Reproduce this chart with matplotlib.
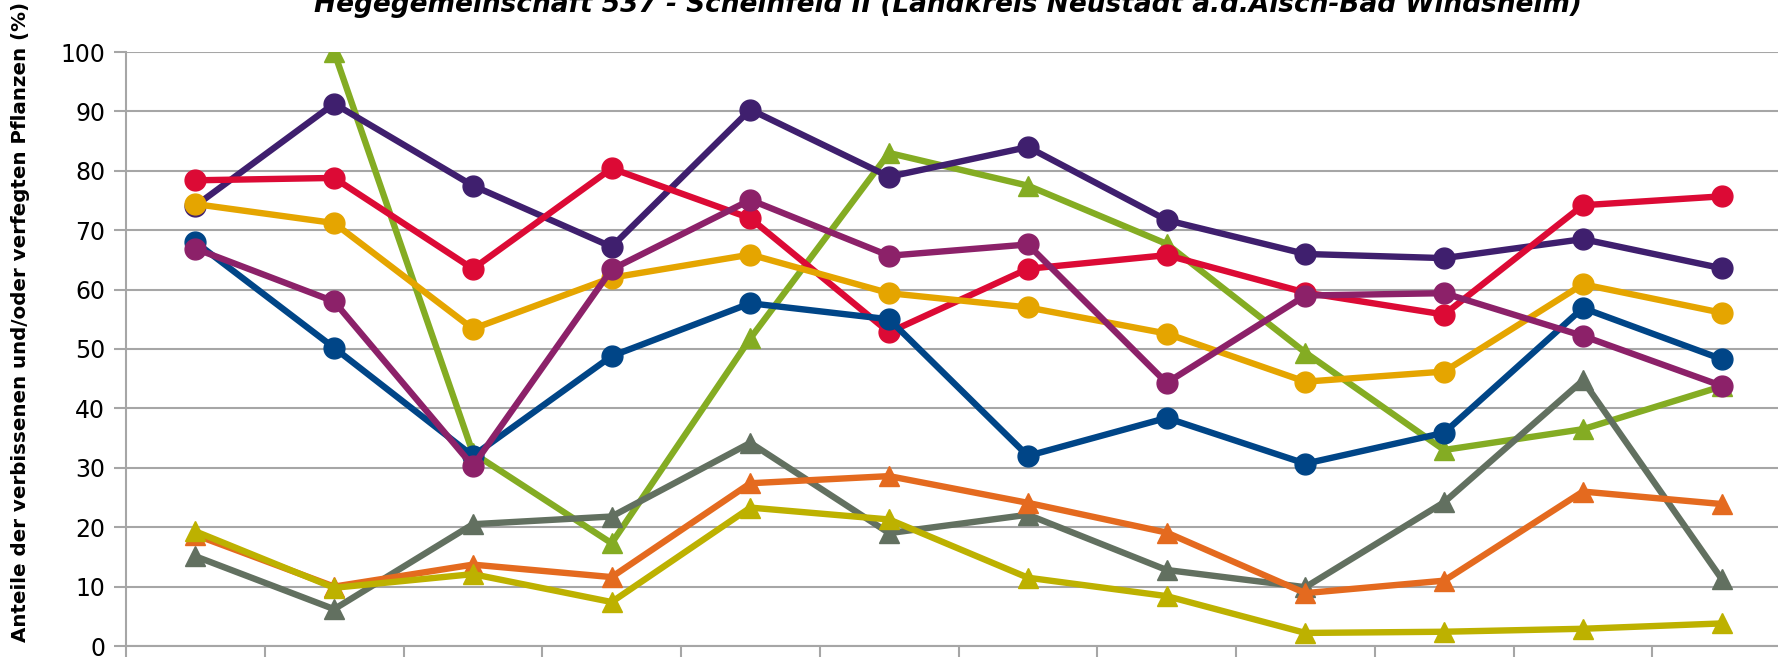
import numpy as np
import matplotlib.pyplot as plt

# 12 survey points (x labels cut off in the reference)
positions = np.arange(12)

purple = [74.1, 91.3, 77.5, 67.2, 90.3, 79.0, 84.0, 71.7, 66.0, 65.3, 68.5, 63.6]
red = [78.4, 78.8, 63.5, 80.4, 72.0, 52.8, 63.5, 65.8, 59.5, 55.8, 74.2, 75.7]
gold = [74.4, 71.2, 53.4, 62.0, 65.9, 59.4, 57.0, 52.6, 44.5, 46.2, 60.9, 56.1]
blue = [68.0, 50.2, 32.0, 48.8, 57.7, 55.0, 32.0, 38.4, 30.7, 35.9, 56.9, 48.3]
magenta = [66.9, 58.0, 30.3, 63.4, 75.1, 65.7, 67.6, 44.3, 59.0, 59.4, 52.2, 43.8]

green = [np.nan, 100.0, 32.5, 17.3, 51.8, 83.0, 77.5, 67.7, 49.4, 33.0, 36.5, 43.7]
grey = [15.1, 6.2, 20.5, 21.8, 34.2, 19.0, 22.1, 12.8, 9.9, 24.2, 44.7, 11.3]
orange = [18.7, 10.0, 13.7, 11.6, 27.4, 28.6, 24.1, 19.1, 8.9, 11.0, 26.0, 23.9]
olive = [19.3, 9.8, 12.1, 7.4, 23.3, 21.3, 11.5, 8.4, 2.2, 2.4, 2.9, 3.8]

fig = plt.figure(figsize=(17.78, 6.57), dpi=100)
ax = fig.add_axes([126 / 1778, 1 - 646 / 657, 1665 / 1778, 594 / 657])

# triangles first, circles on top
tri_series = [(green, "#84AC23"), (grey, "#627060"), (orange, "#E46A1F"), (olive, "#BDB100")]
for vals, col in tri_series:
    ax.plot(positions, vals, color=col, lw=4.6, marker="^", ms=14, zorder=3)

circ_series = [(purple, "#3F1F6E"), (red, "#DC0A35"), (gold, "#E5A500"),
               (blue, "#004587"), (magenta, "#8C2169")]
for vals, col in circ_series:
    ax.plot(positions, vals, color=col, lw=4.6, marker="o", ms=15, zorder=4)

ax.set_xlim(-0.5, 11.5)
ax.set_ylim(0, 100)
ax.set_yticks(np.arange(0, 101, 10))
ax.set_xticks(np.arange(-0.5, 12, 1))
ax.set_xticklabels([])
ax.yaxis.grid(True, color="#A6A6A6", lw=1.5)
ax.set_axisbelow(True)
for s in ["top", "right"]:
    ax.spines[s].set_visible(False)
for s in ["left", "bottom"]:
    ax.spines[s].set_color("#A6A6A6")
    ax.spines[s].set_linewidth(1.5)
ax.tick_params(axis="both", color="#A6A6A6", width=1.5, length=9, labelsize=17)
ax.tick_params(axis="y", pad=6)

ax.set_ylabel("Anteile der verbissenen und/oder verfegten Pflanzen (%)",
              fontsize=14.3, fontweight="bold")
ax.yaxis.set_label_coords(-(126 - 30) / 1665, (646 - 322) / 594)

fig.text(948 / 1778, 1 - 12 / 657,
         "Hegegemeinschaft 537 - Scheinfeld II (Landkreis Neustadt a.d.Aisch-Bad Windsheim)",
         ha="center", va="baseline", fontsize=19, fontweight="bold", fontstyle="italic")

fig.savefig("out.png", dpi=100)
